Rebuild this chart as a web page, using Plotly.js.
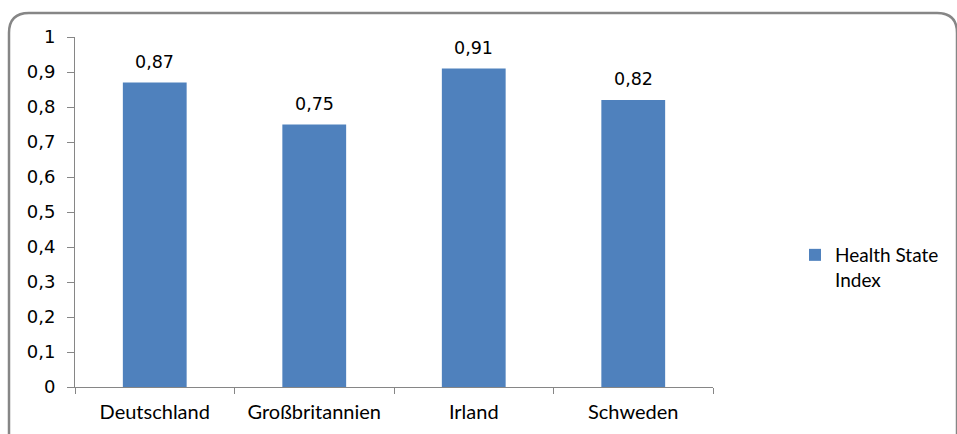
<!DOCTYPE html>
<html>
<head>
<meta charset="utf-8">
<script src="https://cdn.plot.ly/plotly-3.0.1.min.js"></script>
<style>
  html, body { margin: 0; padding: 0; background: #fff; }
  #chart { width: 957px; height: 434px; }
</style>
</head>
<body>
<div id="chart"></div>
<script>
// Health State Index by country
const countries = ['Deutschland', 'Großbritannien', 'Irland', 'Schweden'];
const healthIndex = [0.87, 0.75, 0.91, 0.82];
const yTicks = [0, 0.1, 0.2, 0.3, 0.4, 0.5, 0.6, 0.7, 0.8, 0.9, 1];
const yTickText = ['0', '0,1', '0,2', '0,3', '0,4', '0,5', '0,6', '0,7', '0,8', '0,9', '1'];

const fmt = v => v.toFixed(2).replace('.', ',');

const W = 957, H = 434;
const M = { l: 75, r: 244, t: 37, b: 47 };
const pw = W - M.l - M.r, ph = H - M.t - M.b;
// pixel -> paper helpers for the outer frame and legend placement
const px = x => (x - M.l) / pw;
const py = y => (H - M.b - y) / ph;

// rounded outer frame (bottom edge runs past the page)
const fx0 = 9, fx1 = 957, fy0 = 13, fy1 = 460, r = 20;
const framePath =
  'M ' + px(fx0) + ',' + py(fy1) +
  ' L ' + px(fx0) + ',' + py(fy0 + r) +
  ' Q ' + px(fx0) + ',' + py(fy0) + ' ' + px(fx0 + r) + ',' + py(fy0) +
  ' L ' + px(fx1 - r) + ',' + py(fy0) +
  ' Q ' + px(fx1) + ',' + py(fy0) + ' ' + px(fx1) + ',' + py(fy0 + r) +
  ' L ' + px(fx1) + ',' + py(fy1);

const trace = {
  type: 'bar',
  x: countries,
  y: healthIndex,
  name: 'Health State<br>Index',
  marker: { color: '#4F81BD' },
  hoverinfo: 'skip'
};

// value labels above each bar
const valueLabels = countries.map((c, i) => ({
  x: c, y: healthIndex[i], xref: 'x', yref: 'y',
  text: fmt(healthIndex[i]),
  showarrow: false, yanchor: 'bottom', yshift: 9,
  font: { family: 'DejaVu Sans', size: 17.5, color: '#000' }
}));

const layout = {
  width: W, height: H,
  margin: M,
  paper_bgcolor: '#fff',
  plot_bgcolor: '#fff',
  bargap: 0.6,
  showlegend: true,
  legend: {
    x: px(795), y: py(236), xanchor: 'left', yanchor: 'top',
    valign: 'top',
    font: { family: 'Lato', size: 19, color: '#000' },
    itemwidth: 30
  },
  xaxis: {
    type: 'category',
    tickson: 'boundaries',
    ticks: 'outside', ticklen: 6, tickcolor: '#868686',
    showline: true, linecolor: '#868686', linewidth: 1,
    showgrid: false,
    ticklabelstandoff: 7,
    tickfont: { family: 'Lato', size: 20, color: '#000' },
    fixedrange: true
  },
  yaxis: {
    range: [0, 1],
    tickvals: yTicks, ticktext: yTickText,
    ticks: 'outside', ticklen: 7, tickcolor: '#868686',
    showline: true, linecolor: '#868686', linewidth: 1,
    showgrid: false, zeroline: false,
    ticklabelstandoff: 8,
    tickfont: { family: 'DejaVu Sans', size: 18, color: '#000' },
    fixedrange: true
  },
  annotations: valueLabels,
  shapes: [{
    type: 'path', xref: 'paper', yref: 'paper',
    path: framePath,
    line: { color: '#868686', width: 2.5 },
    layer: 'below'
  }]
};

Plotly.newPlot('chart', [trace], layout, { displayModeBar: false, staticPlot: true });
</script>
</body>
</html>
